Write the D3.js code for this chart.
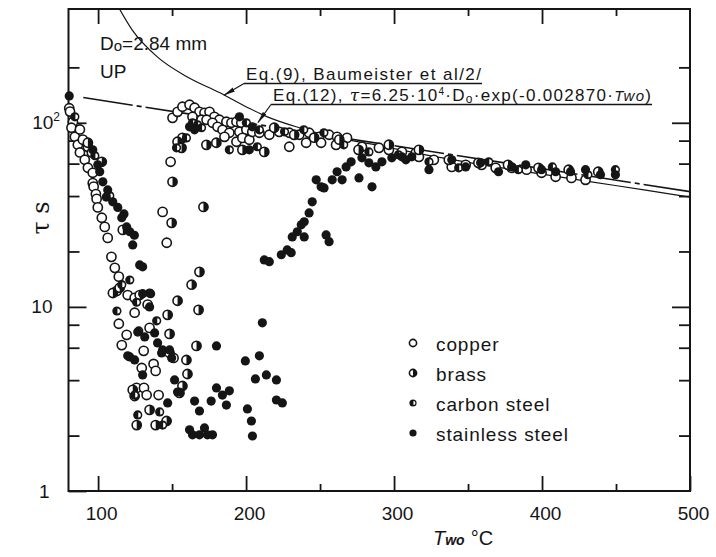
<!DOCTYPE html>
<html>
<head>
<meta charset="utf-8">
<script src="https://cdn.jsdelivr.net/npm/d3@7"></script>
<style>
  html, body { margin: 0; padding: 0; background: #fff; }
  svg { display: block; font-family: "Liberation Sans", Arial, Helvetica, sans-serif; }
</style>
</head>
<body>
<svg id="chart" width="716" height="557"></svg>
<script>
// ---- Axis ticks ----
const xMajorTicks = [100, 200, 300, 400, 500];
const xMinorTicks = [150, 250, 350, 450];
const yMajorTicks = [1, 10, 100];
const yMinorTicks = [2, 4, 6, 8, 20, 40, 60, 80, 200];

// ---- Measured lifetimes [Two (°C), tau (s)] ----
const copper = [
  [80.5,120],[81,115],[83,101],[82,94],[84.3,84],[87.7,92],[86.3,76],[89.7,81],[87.7,69],
  [91,63],[93.1,74],[95.8,69],[93.1,57],[96.4,53.5],[96.4,47],[97,45],[98.5,41],
  [99,38.6],[99.8,34.7],[102.5,30.5],[104.5,27.2],[106.5,23.7],[109,18.7],[111.3,16.3],[114,14.6],
  [112.6,12.2],[120,11.6],[124.7,11.2],[124.7,9.3],[114,8.1],[119.3,7.05],[116,6.2],[130.8,5.77],
  [134.8,7.69],[129.5,4.66],[137.5,4.9],[138.9,4.49],[126,3.63],[131,3.63],[132.8,3.32],
  [140.9,3.32],[151,5.28],[133.5,10.3],
  [146.4,22.3],[143.6,32.8],[149,61.4],[150.3,106.4],[153.7,114.7],[157,122.2],[161.8,125.3],
  [165.2,120.7],[168.5,114.7],[171.9,113.3],[175.3,114.7],[178.6,107.8],[182,103.9],[186.7,101.3],
  [190.1,100],[193.5,101.3],[196.8,100],[163.8,107.8],[169.9,103.9],[173.3,103.9],[177.3,100],
  [180.7,95.1],[184.1,91.6],[188.7,88.3],[195.5,89.3],[200.2,91.6],[193.5,78.9],[185.4,83.9],
  [197.5,82.8],[202.2,80.9],
  [204.2,89.3],[209,88.3],[215.7,86.1],[222.4,89.3],[229.2,88.3],[235.9,86.1],[242.6,88.3],
  [249.4,83.9],[256.1,86.1],[261.5,83.9],[268.2,82.8],[229.2,74.1],[240.6,77.9],[250.7,77.9],
  [260.8,75.9],[278.3,74.1],[289.8,73.1],[296.5,71.3],[305.3,69.5],[314.7,68.7],[316.8,65.3],
  [326.9,62.9],[339,57.6],[348.4,59.1],[359.2,59.1],[368.7,56.9],[379.5,56.9],[389.6,55.6],
  [399.7,53.5],[409.2,50.9],[419.9,50.2],[429.4,49]
];

const brass = [
  [102.5,61.4],[93.1,77.9],[116.7,26.2],
  [110,11.9],[124.7,3.28],[114.6,12.7],[128.1,11.6],[123.4,3.54],[126.1,2.28],[134.8,2.76],
  [138.9,2.28],[146.3,2.40],
  [163.2,13.2],[153.7,10.8],[167.9,9.63],[166.5,6.14],[160.4,4.32],[159.7,5.15],[148.3,7.13],
  [148.3,5.62],[157,3.72],[155,3.41],[150.3,47.8],[149.7,28.6],[171.2,34.9],[168.5,15.5],[147,9.05],
  [157,82.8],[153.7,78.9],[156.4,73.1],[173.2,75.9],[179.9,77.9],[197.5,71.3],[212.3,69.5],
  [219,94],[232.5,86],[246,83],[263,81],[276,71.3],[296.5,76],[316.8,71.3],[337,62.9],
  [357,60.6],[377,59.1],[397.6,56.9],[418,55.6],[438,54.2]
];

const carbonSteel = [
  [84.3,107.8],[97.8,66.2],[107.9,40.1],
  [112.7,9.5],[121.4,14],[134.8,11.9],[116,13.2],[126,10.6],[139.6,8.4],[127.5,7.4],[120,5.42],
  [124.7,3.32],[126.8,2.59],[141.6,2.69],[143.6,2.28],
  [163.8,100],[167.2,97.6],[169.9,94],[153,73.1],[159.7,82.8],[188.7,71.3],[207.6,74.1],
  [200.2,100],[209,91.6],
  [226,89.3],[239,91.6],[252.6,88.3],[266,75.9],[283,69.5],[303,67],[323.6,61.4],[343.7,56.9],
  [364,61.4],[384,55.6],[407,57.6],[431,52.2],[449.6,55.6]
];

const stainlessSteel = [
  [80.5,140],
  [96.4,71.3],[99.8,59.1],[101.1,54.2],[103.2,47.8],[106.5,43.2],[105.5,39.5],[109.9,37.2],
  [113.3,34.7],[117.5,32],[116,30.5],[119.3,27.2],[121.4,25.6],[124.5,24.5],[123.4,21.7],
  [128.1,16.9],[130.1,16.5],
  [134.8,10],[126.8,7.3],[131.5,6.87],[138.2,7.22],[140.2,6.37],[143.6,5.84],[148.3,5.84],
  [149.7,5.28],[142.9,5.62],[151.7,4.01],[153.7,3.45],[147,3.01],[121.4,5.35],[124.7,5.15],
  [130.1,4.27],[130.1,11.8],[135.5,11.8],
  [180,6.14],[199.5,5.09],[209,5.42],[211,8.19],[206.3,4.06],[213.7,4.27],[220.5,4.01],
  [200.9,2.79],[203.6,2.40],[204.3,1.99],[220.5,3.12],[224.5,3.01],[180,3.63],[184,3.32],
  [186.7,2.93],[188.7,3.5],[176.4,3.08],[168.5,2.72],[165.2,3.08],[161.8,2.15],[163.8,2.02],
  [168.5,2.02],[171.9,2.2],[173.9,2.02],[177.3,2.02],
  [212.3,18],[215.7,17.6],[223.8,19.2],[227.8,20.4],[230.5,19.7],[231.2,24],[234.6,25.6],
  [237.3,27.9],[239.3,29],[242.6,32.4],[239.3,24],[244.7,37.2],[247.4,49],[250.7,44.9],
  [252.7,44.3],[254.1,24.6],[256.1,22.6],[258.2,49],[261.5,54.2],[264.9,49],[267.6,57.6],
  [271,61.4],[276.3,50.2],[285.1,44.9],[278.3,64.5],[283,60.6],[287.7,57.6],[291.8,61.4],
  [298.5,64.5],[305.3,65.3],[312,65.3],[308,62.9],
  [323.6,55.6],[339,62.9],[348.4,57.6],[358.5,60.6],[370.6,54.2],[379.5,57.6],[389,59.1],
  [399.7,55.6],[409.2,54.2],[419.3,54.2],[429.4,55.6],[439.5,52.2],[449.6,52.2],
  [161.8,95.1],[165.2,91.6],[202.2,71.3],[195.5,107.8],[204.2,95.1]
];

// ---- Eq.(9), Baumeister et al. curve [Two, tau] ----
const eq9Two = [112, 123, 140, 160, 182, 202, 214, 236, 260, 290, 317, 350, 400, 431, 470, 500];
const eq9Tau = [450, 320, 228, 178, 146, 120, 108, 94, 83.5, 75.3, 68, 61, 52.6, 48.1, 43.1, 39.5];

// ---- Eq.(12): tau = 6.25e4 * Do * exp(-0.002870 * Two), Do = 2.84 mm ----
const eq12Coef = 6.25e4;
const eq12Do = 2.84e-3;
const eq12Rate = 0.002870;
const eq12Range = [90, 500];
const eq12 = t => eq12Coef * eq12Do * Math.exp(-eq12Rate * t);

const legendItems = [
  { key: "copper", label: "copper" },
  { key: "brass", label: "brass" },
  { key: "carbon", label: "carbon steel" },
  { key: "stainless", label: "stainless steel" }
];

// ---- Layout ----
const ink = "#151515";
const svg = d3.select("#chart");
const P = { left: 68.5, right: 690, top: 9, bottom: 491 };

const x = d3.scaleLinear().domain([80, 500]).range([P.left, P.right]);
const y = d3.scaleLog().domain([1, 415]).range([P.bottom, P.top]);

svg.append("defs").html(`
  <clipPath id="plotClip"><rect x="${P.left}" y="${P.top}" width="${P.right - P.left}" height="${P.bottom - P.top}"/></clipPath>
  <marker id="arrow" viewBox="0 0 12 6" refX="11.5" refY="3" markerWidth="12" markerHeight="6" markerUnits="userSpaceOnUse" orient="auto">
    <path d="M0,0.8 L12,3 L0,5.2 Z" fill="${ink}"/>
  </marker>`);

// ---- Axes (ticks point inward) ----
function styleAxis(g) {
  g.select(".domain").remove();
  g.selectAll(".tick line").attr("stroke", ink).attr("stroke-width", 1.8);
  g.selectAll(".tick text").attr("fill", ink).attr("font-size", 19);
}

svg.append("g").attr("transform", `translate(0,${P.bottom})`)
  .call(d3.axisBottom(x).tickValues(xMajorTicks).tickSize(-15).tickPadding(16).tickFormat(d3.format("d")))
  .call(styleAxis)
  .call(g => g.selectAll(".tick text").attr("dx", 3));
svg.append("g").attr("transform", `translate(0,${P.bottom})`)
  .call(d3.axisBottom(x).tickValues(xMinorTicks).tickSize(-7).tickFormat(""))
  .call(styleAxis);
svg.append("g").attr("transform", `translate(0,${P.top})`)
  .call(d3.axisTop(x).tickValues(xMajorTicks.filter(v => v < 500)).tickSize(-15).tickFormat(""))
  .call(styleAxis);
svg.append("g").attr("transform", `translate(0,${P.top})`)
  .call(d3.axisTop(x).tickValues(xMinorTicks).tickSize(-7).tickFormat(""))
  .call(styleAxis);

const yLeft = svg.append("g").attr("transform", `translate(${P.left},0)`)
  .call(d3.axisLeft(y).tickValues(yMajorTicks).tickSize(-18).tickPadding(16)
    .tickFormat(d => d === 100 ? "10" : String(d)))
  .call(styleAxis);
yLeft.selectAll(".tick text").filter(d => d === 1).attr("x", -19);
yLeft.selectAll(".tick text").filter(d => d === 100)
  .attr("x", -8.5)
  .append("tspan").attr("font-size", 12).attr("dy", -8).text("2");
svg.append("g").attr("transform", `translate(${P.left},0)`)
  .call(d3.axisLeft(y).tickValues(yMinorTicks).tickSize(-11).tickFormat(""))
  .call(styleAxis);
svg.append("g").attr("transform", `translate(${P.right},0)`)
  .call(d3.axisRight(y).tickValues(yMajorTicks.filter(v => v > 1)).tickSize(-18).tickFormat(""))
  .call(styleAxis);
svg.append("g").attr("transform", `translate(${P.right},0)`)
  .call(d3.axisRight(y).tickValues(yMinorTicks).tickSize(-11).tickFormat(""))
  .call(styleAxis);

// frame
svg.append("rect")
  .attr("x", P.left).attr("y", P.top)
  .attr("width", P.right - P.left).attr("height", P.bottom - P.top)
  .attr("fill", "none").attr("stroke", ink).attr("stroke-width", 2);

// ---- Correlation curves ----
const plot = svg.append("g").attr("clip-path", "url(#plotClip)");
const eq9Line = d3.line().x(d => x(d[0])).y(d => y(d[1])).curve(d3.curveMonotoneX);
plot.append("path")
  .datum(eq9Two.map((t, i) => [t, eq9Tau[i]]))
  .attr("d", eq9Line)
  .attr("fill", "none").attr("stroke", ink).attr("stroke-width", 1.2);

plot.append("path")
  .datum(eq12Range.map(t => [t, eq12(t)]))
  .attr("d", d3.line().x(d => x(d[0])).y(d => y(d[1])))
  .attr("fill", "none").attr("stroke", ink).attr("stroke-width", 1.6)
  .attr("stroke-dasharray", "50,4,5,4");

// ---- Markers ----
function marker(g, kind, r) {
  if (kind === "copper") {
    g.append("circle").attr("r", r).attr("fill", "#fff").attr("stroke", ink).attr("stroke-width", 1.6);
  } else if (kind === "brass") {
    g.append("circle").attr("r", r).attr("fill", "#fff").attr("stroke", ink).attr("stroke-width", 1.6);
    g.append("path").attr("d", `M0,${-r} A${r},${r} 0 0 1 0,${r} Z`).attr("fill", ink);
  } else if (kind === "carbon") {
    g.append("circle").attr("r", r).attr("fill", ink);
    const s = r * 0.55, o = r * 0.12;
    g.append("path").attr("d", `M${o},${-s} A${s},${s} 0 0 1 ${o},${s} Z`).attr("fill", "#fff");
  } else {
    g.append("circle").attr("r", r).attr("fill", ink);
  }
}

const series = [
  { key: "copper", data: copper },
  { key: "brass", data: brass },
  { key: "carbon", data: carbonSteel },
  { key: "stainless", data: stainlessSteel }
];
series.forEach(s => {
  svg.append("g").attr("class", "series-" + s.key)
    .selectAll("g").data(s.data).join("g")
    .attr("transform", d => `translate(${x(d[0])},${y(d[1])})`)
    .each(function () { marker(d3.select(this), s.key, 4.6); });
});

// ---- Legend ----
const legend = svg.append("g").attr("transform", "translate(413,343)");
legendItems.forEach((it, i) => {
  const row = legend.append("g").attr("transform", `translate(0,${i * 30})`);
  marker(row.append("g"), it.key, 3.6);
  row.append("text").attr("x", 23).attr("y", 8)
    .attr("font-size", 19).attr("letter-spacing", 0.9).attr("fill", ink)
    .text(it.label);
});

// ---- Annotations ----
const note = svg.append("g").attr("fill", ink);
const doText = note.append("text").attr("x", 100).attr("y", 50).attr("font-size", 19);
doText.append("tspan").text("D");
doText.append("tspan").attr("font-size", 15).attr("dy", 1).text("o");
doText.append("tspan").attr("dy", -1).text("=2.84 mm");
note.append("text").attr("x", 100).attr("y", 78).attr("font-size", 19).text("UP");

note.append("text").attr("x", 246).attr("y", 80).attr("font-size", 17)
  .attr("textLength", 235).attr("lengthAdjust", "spacing")
  .text("Eq.(9), Baumeister et al/2/");
note.append("line").attr("x1", 244).attr("x2", 482).attr("y1", 83.5).attr("y2", 83.5)
  .attr("stroke", ink).attr("stroke-width", 1.5);

const eq12Text = note.append("text").attr("x", 273).attr("y", 101).attr("font-size", 17)
  .attr("textLength", 378).attr("lengthAdjust", "spacing");
eq12Text.append("tspan").text("Eq.(12), ");
eq12Text.append("tspan").attr("font-family", "'DejaVu Serif', serif").attr("font-style", "italic").text("τ");
eq12Text.append("tspan").text("=6.25·10");
eq12Text.append("tspan").attr("font-size", 10).attr("dy", -6).text("4");
eq12Text.append("tspan").attr("dy", 6).text("·D");
eq12Text.append("tspan").attr("font-size", 12).attr("dy", 2).text("o");
eq12Text.append("tspan").attr("dy", -2).text("·exp(-0.002870·");
eq12Text.append("tspan").attr("font-style", "italic").attr("font-size", 15).text("Two");
eq12Text.append("tspan").text(")");
note.append("line").attr("x1", 271).attr("x2", 652).attr("y1", 104.5).attr("y2", 104.5)
  .attr("stroke", ink).attr("stroke-width", 1.5);

// leader arrows onto the two curves
const eq9TipT = 185, eq9TipTau = 141;
svg.append("line")
  .attr("x1", 244).attr("y1", 83.5).attr("x2", x(eq9TipT)).attr("y2", y(eq9TipTau))
  .attr("stroke", ink).attr("stroke-width", 1.2).attr("marker-end", "url(#arrow)");
const eq12TipT = 208;
svg.append("line")
  .attr("x1", 271).attr("y1", 104.5).attr("x2", x(eq12TipT)).attr("y2", y(eq12(eq12TipT)) - 2)
  .attr("stroke", ink).attr("stroke-width", 1.2).attr("marker-end", "url(#arrow)");

// ---- Axis titles ----
const xt = svg.append("text").attr("x", 433).attr("y", 545).attr("fill", ink).attr("font-size", 20);
xt.append("tspan").attr("font-style", "italic").text("T");
xt.append("tspan").attr("font-style", "italic").attr("font-weight", "bold").attr("font-size", 14).text("wo");
xt.append("tspan").attr("dx", 6).text("°C");

svg.append("text")
  .attr("transform", "translate(49,218) rotate(-90)")
  .attr("text-anchor", "middle").attr("fill", ink).attr("font-size", 24)
  .attr("font-family", "'DejaVu Serif', serif")
  .text("τ s");
</script>
</body>
</html>
